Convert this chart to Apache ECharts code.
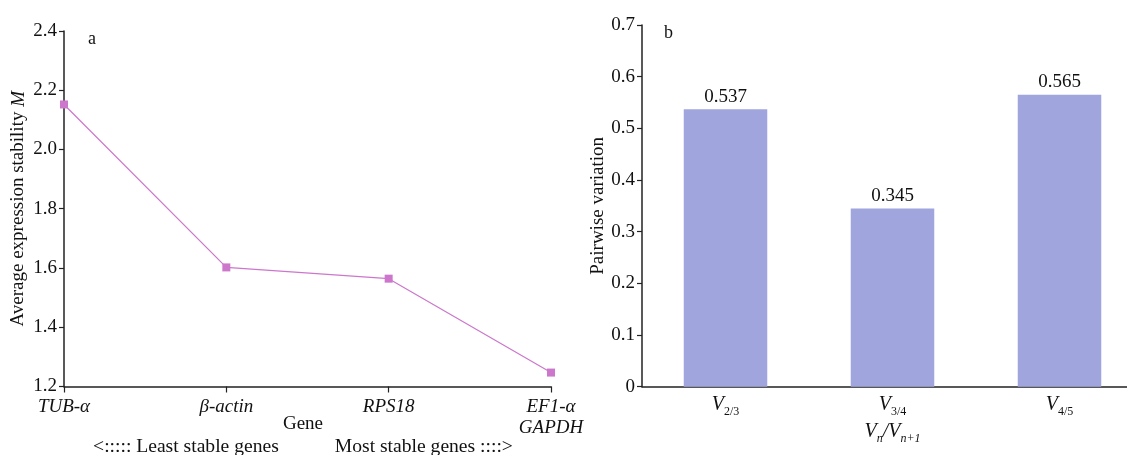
<!DOCTYPE html>
<html><head><meta charset="utf-8">
<script src="https://cdn.jsdelivr.net/npm/echarts@6/dist/echarts.min.js"></script>
<style>html,body{margin:0;padding:0;background:#fff}#c{width:1127px;height:455px}</style>
</head><body><div id="c"></div>
<script>
const genes = ['TUB-α', 'β-actin', 'RPS18', 'EF1-α\nGAPDH'];
const stabilityM = [2.152, 1.602, 1.564, 1.247];
const ratios = ['2/3', '3/4', '4/5'];
const pairwise = [0.537, 0.345, 0.565];
const ticksA = [1.2, 1.4, 1.6, 1.8, 2.0, 2.2, 2.4];
const ticksB = [0, 0.1, 0.2, 0.3, 0.4, 0.5, 0.6, 0.7];

const FONT = 'Liberation Serif';
const TXT = '#111';
const AX = '#222';
const FS = 19;

const chart = echarts.init(document.getElementById('c'));
chart.setOption({
  animation: false,
  textStyle: { fontFamily: FONT, color: TXT },
  grid: [
    { left: 64, top: 31, width: 487, bottom: 68.5, containLabel: false, outerBoundsMode: 'none' },
    { left: 642, top: 25, right: -16, bottom: 68.3, containLabel: false, outerBoundsMode: 'none' }
  ],
  graphic: [
    { type: 'text', left: 88, top: 30, style: { text: 'a', font: '18px ' + FONT, fill: TXT } },
    { type: 'text', left: 664, top: 24, style: { text: 'b', font: '18px ' + FONT, fill: TXT } }
  ],
  xAxis: [
    {
      gridIndex: 0, type: 'category', data: genes, boundaryGap: false,
      axisLine: { lineStyle: { color: AX, width: 1.5 } },
      axisTick: { show: true, inside: false, length: 6, alignWithLabel: true, lineStyle: { color: AX, width: 1.2 } },
      axisLabel: { fontFamily: FONT, fontStyle: 'italic', fontSize: FS, color: TXT, margin: 10, lineHeight: 21, interval: 0 },
      name: '{g|Gene}\n{t|<::::: Least stable genes}{sp|}{t|Most stable genes ::::>}',
      nameLocation: 'middle', nameGap: 27, nameMoveOverlap: false,
      nameTextStyle: {
        fontFamily: FONT, color: TXT, padding: [0, 9, 0, 0],
        rich: {
          g: { fontFamily: FONT, fontSize: FS, color: TXT, lineHeight: 22 },
          t: { fontFamily: FONT, fontSize: 19.6, color: TXT, lineHeight: 22 },
          sp: { width: 56 }
        }
      }
    },
    {
      gridIndex: 1, type: 'category', data: ratios, boundaryGap: true,
      axisLine: { lineStyle: { color: AX, width: 1.5 } },
      axisTick: { show: false },
      axisLabel: {
        interval: 0, margin: 7,
        formatter: v => '{v|V}{s|' + v + '}',
        rich: {
          v: { fontFamily: FONT, fontStyle: 'italic', fontSize: 20, color: TXT, lineHeight: 22 },
          s: { fontFamily: FONT, fontSize: 12, color: TXT, lineHeight: 22, padding: [14, 0, 0, 0] }
        }
      },
      name: '{v|V}{s|n}{v|/V}{s|n+1}',
      nameLocation: 'middle', nameGap: 34, nameMoveOverlap: false,
      nameTextStyle: {
        rich: {
          v: { fontFamily: FONT, fontStyle: 'italic', fontSize: 20, color: TXT, lineHeight: 22 },
          s: { fontFamily: FONT, fontStyle: 'italic', fontSize: 12, color: TXT, lineHeight: 22, padding: [14, 0, 0, 0] }
        }
      }
    }
  ],
  yAxis: [
    {
      gridIndex: 0, type: 'value', min: ticksA[0], max: ticksA[ticksA.length - 1], interval: 0.2,
      splitLine: { show: false },
      axisLine: { show: true, lineStyle: { color: AX, width: 1.5 } },
      axisTick: { show: true, length: 5, lineStyle: { color: AX, width: 1.2 } },
      axisLabel: { fontFamily: FONT, fontSize: FS, color: TXT, margin: 7, formatter: v => v.toFixed(1) },
      name: '{n|Average expression stability }{i|M}',
      nameLocation: 'middle', nameGap: 36, nameRotate: 90, nameMoveOverlap: false,
      nameTextStyle: {
        rich: {
          n: { fontFamily: FONT, fontSize: FS, color: TXT },
          i: { fontFamily: FONT, fontSize: FS, fontStyle: 'italic', color: TXT }
        }
      }
    },
    {
      gridIndex: 1, type: 'value', min: ticksB[0], max: ticksB[ticksB.length - 1], interval: 0.1,
      splitLine: { show: false },
      axisLine: { show: true, lineStyle: { color: AX, width: 1.5 } },
      axisTick: { show: true, length: 5, lineStyle: { color: AX, width: 1.2 } },
      axisLabel: { fontFamily: FONT, fontSize: FS, color: TXT, margin: 7 },
      name: 'Pairwise variation',
      nameLocation: 'middle', nameGap: 34, nameRotate: 90, nameMoveOverlap: false,
      nameTextStyle: { fontFamily: FONT, fontSize: FS, color: TXT }
    }
  ],
  series: [
    {
      type: 'line', xAxisIndex: 0, yAxisIndex: 0, data: stabilityM,
      symbol: 'rect', symbolSize: 8,
      lineStyle: { color: '#cc77cc', width: 1.2 },
      itemStyle: { color: '#cc77cc' }
    },
    {
      type: 'bar', xAxisIndex: 1, yAxisIndex: 1, data: pairwise,
      barWidth: '50%',
      itemStyle: { color: '#a0a5de' },
      label: { show: true, position: 'top', distance: 3, fontFamily: FONT, fontSize: FS, color: TXT, formatter: p => p.value.toFixed(3) }
    }
  ]
});
</script></body></html>
